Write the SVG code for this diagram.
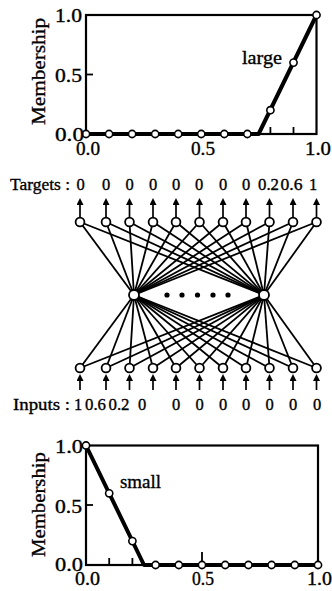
<svg xmlns="http://www.w3.org/2000/svg" width="332" height="591" viewBox="0 0 332 591">
<style>
text { font-family: "Liberation Serif", "Times New Roman", serif; fill: #000; stroke: #000; stroke-width: 0.35; }
.ax { font-size: 19px; }
.lb { font-size: 17px; }
.num { font-size: 16.5px; text-anchor: middle; }
.box { fill: none; stroke: #000; stroke-width: 2.2; }
.tick { stroke: #000; stroke-width: 1.8; }
.curve { fill: none; stroke: #000; stroke-width: 4; stroke-linejoin: round; }
.pt { fill: #fff; stroke: #000; stroke-width: 1.6; }
.node { fill: #fff; stroke: #000; stroke-width: 1.8; }
.edge { stroke: #000; stroke-width: 1.8; }
.arr { stroke: #000; stroke-width: 1.7; marker-end: url(#ah); }
</style>
<defs>
<marker id="ah" viewBox="0 0 7 7" refX="3" refY="3.5" markerWidth="7" markerHeight="7" orient="auto" markerUnits="userSpaceOnUse">
<path d="M0,0 L7,3.5 L0,7 Z" fill="#000"/>
</marker>
</defs>

<!-- Top chart: large -->
<g id="chart-large">
<rect class="box" x="86" y="15" width="230.5" height="119"/>
<line class="tick" x1="86" y1="74.5" x2="93" y2="74.5"/>
<line class="tick" x1="270.4" y1="134" x2="270.4" y2="127"/>
<line class="tick" x1="293.5" y1="134" x2="293.5" y2="127"/>
<polyline class="curve" points="86,134 258.6,134 316.5,15"/>
<circle class="pt" cx="86" cy="134" r="3.6"/>
<circle class="pt" cx="109.05" cy="134" r="3.6"/>
<circle class="pt" cx="132.1" cy="134" r="3.6"/>
<circle class="pt" cx="155.15" cy="134" r="3.6"/>
<circle class="pt" cx="178.2" cy="134" r="3.6"/>
<circle class="pt" cx="201.25" cy="134" r="3.6"/>
<circle class="pt" cx="224.3" cy="134" r="3.6"/>
<circle class="pt" cx="247.35" cy="134" r="3.6"/>
<circle class="pt" cx="270.4" cy="110.2" r="3.6"/>
<circle class="pt" cx="293.5" cy="62.6" r="3.6"/>
<circle class="pt" cx="316.5" cy="15" r="3.6"/>
<text class="ax" x="242" y="64" textLength="40" lengthAdjust="spacingAndGlyphs">large</text>
<text class="ax" x="55" y="22" textLength="27" lengthAdjust="spacingAndGlyphs">1.0</text>
<text class="ax" x="55" y="82" textLength="27" lengthAdjust="spacingAndGlyphs">0.5</text>
<text class="ax" x="55" y="141" textLength="29" lengthAdjust="spacingAndGlyphs">0.0</text>
<text class="ax" x="76" y="155" textLength="24" lengthAdjust="spacingAndGlyphs">0.0</text>
<text class="ax" x="191" y="155" textLength="24" lengthAdjust="spacingAndGlyphs">0.5</text>
<text class="ax" x="305" y="155" textLength="26" lengthAdjust="spacingAndGlyphs">1.0</text>
<text class="ax" transform="translate(45,71.5) rotate(-90)" text-anchor="middle" textLength="107" lengthAdjust="spacingAndGlyphs">Membership</text>
</g>

<!-- Connectors -->
<g id="connectors">
<line class="edge" x1="80" y1="222" x2="134" y2="295"/>
<line class="edge" x1="106" y1="222" x2="134" y2="295"/>
<line class="edge" x1="129.5" y1="222" x2="134" y2="295"/>
<line class="edge" x1="153" y1="222" x2="134" y2="295"/>
<line class="edge" x1="176" y1="222" x2="134" y2="295"/>
<line class="edge" x1="199.5" y1="222" x2="134" y2="295"/>
<line class="edge" x1="223" y1="222" x2="134" y2="295"/>
<line class="edge" x1="246" y1="222" x2="134" y2="295"/>
<line class="edge" x1="269.5" y1="222" x2="134" y2="295"/>
<line class="edge" x1="293" y1="222" x2="134" y2="295"/>
<line class="edge" x1="316.5" y1="222" x2="134" y2="295"/>
<line class="edge" x1="80" y1="222" x2="264" y2="295"/>
<line class="edge" x1="106" y1="222" x2="264" y2="295"/>
<line class="edge" x1="129.5" y1="222" x2="264" y2="295"/>
<line class="edge" x1="153" y1="222" x2="264" y2="295"/>
<line class="edge" x1="176" y1="222" x2="264" y2="295"/>
<line class="edge" x1="199.5" y1="222" x2="264" y2="295"/>
<line class="edge" x1="223" y1="222" x2="264" y2="295"/>
<line class="edge" x1="246" y1="222" x2="264" y2="295"/>
<line class="edge" x1="269.5" y1="222" x2="264" y2="295"/>
<line class="edge" x1="293" y1="222" x2="264" y2="295"/>
<line class="edge" x1="316.5" y1="222" x2="264" y2="295"/>

<line class="edge" x1="80" y1="368" x2="134" y2="295"/>
<line class="edge" x1="106" y1="368" x2="134" y2="295"/>
<line class="edge" x1="129.5" y1="368" x2="134" y2="295"/>
<line class="edge" x1="153" y1="368" x2="134" y2="295"/>
<line class="edge" x1="176" y1="368" x2="134" y2="295"/>
<line class="edge" x1="199.5" y1="368" x2="134" y2="295"/>
<line class="edge" x1="223" y1="368" x2="134" y2="295"/>
<line class="edge" x1="246" y1="368" x2="134" y2="295"/>
<line class="edge" x1="269.5" y1="368" x2="134" y2="295"/>
<line class="edge" x1="293" y1="368" x2="134" y2="295"/>
<line class="edge" x1="316.5" y1="368" x2="134" y2="295"/>
<line class="edge" x1="80" y1="368" x2="264" y2="295"/>
<line class="edge" x1="106" y1="368" x2="264" y2="295"/>
<line class="edge" x1="129.5" y1="368" x2="264" y2="295"/>
<line class="edge" x1="153" y1="368" x2="264" y2="295"/>
<line class="edge" x1="176" y1="368" x2="264" y2="295"/>
<line class="edge" x1="199.5" y1="368" x2="264" y2="295"/>
<line class="edge" x1="223" y1="368" x2="264" y2="295"/>
<line class="edge" x1="246" y1="368" x2="264" y2="295"/>
<line class="edge" x1="269.5" y1="368" x2="264" y2="295"/>
<line class="edge" x1="293" y1="368" x2="264" y2="295"/>
<line class="edge" x1="316.5" y1="368" x2="264" y2="295"/>

<line class="arr" x1="80" y1="217" x2="80" y2="202"/>
<line class="arr" x1="106" y1="217" x2="106" y2="202"/>
<line class="arr" x1="129.5" y1="217" x2="129.5" y2="202"/>
<line class="arr" x1="153" y1="217" x2="153" y2="202"/>
<line class="arr" x1="176" y1="217" x2="176" y2="202"/>
<line class="arr" x1="199.5" y1="217" x2="199.5" y2="202"/>
<line class="arr" x1="223" y1="217" x2="223" y2="202"/>
<line class="arr" x1="246" y1="217" x2="246" y2="202"/>
<line class="arr" x1="269.5" y1="217" x2="269.5" y2="202"/>
<line class="arr" x1="293" y1="217" x2="293" y2="202"/>
<line class="arr" x1="316.5" y1="217" x2="316.5" y2="202"/>

<line class="arr" x1="80" y1="390" x2="80" y2="378"/>
<line class="arr" x1="106" y1="390" x2="106" y2="378"/>
<line class="arr" x1="129.5" y1="390" x2="129.5" y2="378"/>
<line class="arr" x1="153" y1="390" x2="153" y2="378"/>
<line class="arr" x1="176" y1="390" x2="176" y2="378"/>
<line class="arr" x1="199.5" y1="390" x2="199.5" y2="378"/>
<line class="arr" x1="223" y1="390" x2="223" y2="378"/>
<line class="arr" x1="246" y1="390" x2="246" y2="378"/>
<line class="arr" x1="269.5" y1="390" x2="269.5" y2="378"/>
<line class="arr" x1="293" y1="390" x2="293" y2="378"/>
<line class="arr" x1="316.5" y1="390" x2="316.5" y2="378"/>
</g>

<!-- Output nodes -->
<g id="out0"><circle class="node" cx="80" cy="222" r="4.4"/></g>
<g id="out1"><circle class="node" cx="106" cy="222" r="4.4"/></g>
<g id="out2"><circle class="node" cx="129.5" cy="222" r="4.4"/></g>
<g id="out3"><circle class="node" cx="153" cy="222" r="4.4"/></g>
<g id="out4"><circle class="node" cx="176" cy="222" r="4.4"/></g>
<g id="out5"><circle class="node" cx="199.5" cy="222" r="4.4"/></g>
<g id="out6"><circle class="node" cx="223" cy="222" r="4.4"/></g>
<g id="out7"><circle class="node" cx="246" cy="222" r="4.4"/></g>
<g id="out8"><circle class="node" cx="269.5" cy="222" r="4.4"/></g>
<g id="out9"><circle class="node" cx="293" cy="222" r="4.4"/></g>
<g id="out10"><circle class="node" cx="316.5" cy="222" r="4.4"/></g>

<!-- Hidden nodes -->
<g id="hid0"><circle class="node" cx="134" cy="295" r="5"/></g>
<g id="hid1"><circle class="node" cx="264" cy="295" r="5"/></g>
<g id="hidden-dots">
<circle cx="167" cy="295" r="2.6" fill="#000"/>
<circle cx="182" cy="295" r="2.6" fill="#000"/>
<circle cx="197.5" cy="295" r="2.6" fill="#000"/>
<circle cx="213" cy="295" r="2.6" fill="#000"/>
<circle cx="228" cy="295" r="2.6" fill="#000"/>
</g>

<!-- Input nodes -->
<g id="in0"><circle class="node" cx="80" cy="368" r="4.4"/></g>
<g id="in1"><circle class="node" cx="106" cy="368" r="4.4"/></g>
<g id="in2"><circle class="node" cx="129.5" cy="368" r="4.4"/></g>
<g id="in3"><circle class="node" cx="153" cy="368" r="4.4"/></g>
<g id="in4"><circle class="node" cx="176" cy="368" r="4.4"/></g>
<g id="in5"><circle class="node" cx="199.5" cy="368" r="4.4"/></g>
<g id="in6"><circle class="node" cx="223" cy="368" r="4.4"/></g>
<g id="in7"><circle class="node" cx="246" cy="368" r="4.4"/></g>
<g id="in8"><circle class="node" cx="269.5" cy="368" r="4.4"/></g>
<g id="in9"><circle class="node" cx="293" cy="368" r="4.4"/></g>
<g id="in10"><circle class="node" cx="316.5" cy="368" r="4.4"/></g>

<!-- Targets row -->
<g id="targets">
<text class="lb" x="10" y="190" textLength="60" lengthAdjust="spacingAndGlyphs">Targets :</text>
<text class="num" x="80.5" y="190">0</text>
<text class="num" x="106" y="190">0</text>
<text class="num" x="129.5" y="190">0</text>
<text class="num" x="153" y="190">0</text>
<text class="num" x="176" y="190">0</text>
<text class="num" x="199" y="190">0</text>
<text class="num" x="223" y="190">0</text>
<text class="num" x="246" y="190">0</text>
<text class="num" x="268.5" y="190" textLength="21" lengthAdjust="spacingAndGlyphs">0.2</text>
<text class="num" x="291.5" y="190" textLength="22" lengthAdjust="spacingAndGlyphs">0.6</text>
<text class="num" x="313" y="190">1</text>
</g>

<!-- Inputs row -->
<g id="inputs">
<text class="lb" x="13" y="410" textLength="57" lengthAdjust="spacingAndGlyphs">Inputs :</text>
<text class="num" x="78" y="410">1</text>
<text class="num" x="95.5" y="410" textLength="21" lengthAdjust="spacingAndGlyphs">0.6</text>
<text class="num" x="119" y="410" textLength="21" lengthAdjust="spacingAndGlyphs">0.2</text>
<text class="num" x="142" y="410">0</text>
<text class="num" x="176" y="410">0</text>
<text class="num" x="199.5" y="410">0</text>
<text class="num" x="223" y="410">0</text>
<text class="num" x="246" y="410">0</text>
<text class="num" x="269.5" y="410">0</text>
<text class="num" x="293" y="410">0</text>
<text class="num" x="317" y="410">0</text>
</g>

<!-- Bottom chart: small -->
<g id="chart-small">
<rect class="box" x="86" y="445.5" width="232" height="119.5"/>
<line class="tick" x1="86" y1="505" x2="93" y2="505"/>
<line class="tick" x1="109.2" y1="565" x2="109.2" y2="558"/>
<line class="tick" x1="132.4" y1="565" x2="132.4" y2="558"/>
<line class="tick" x1="202" y1="565" x2="202" y2="552"/>
<polyline class="curve" points="86,445.5 144,565 318,565"/>
<circle class="pt" cx="86" cy="445.5" r="3.6"/>
<circle class="pt" cx="109.2" cy="493.3" r="3.6"/>
<circle class="pt" cx="132.4" cy="541.1" r="3.6"/>
<circle class="pt" cx="155.6" cy="565" r="3.6"/>
<circle class="pt" cx="178.8" cy="565" r="3.6"/>
<circle class="pt" cx="202" cy="565" r="3.6"/>
<circle class="pt" cx="225.2" cy="565" r="3.6"/>
<circle class="pt" cx="248.4" cy="565" r="3.6"/>
<circle class="pt" cx="271.6" cy="565" r="3.6"/>
<circle class="pt" cx="294.8" cy="565" r="3.6"/>
<circle class="pt" cx="318" cy="565" r="3.6"/>
<text class="ax" x="120" y="488" textLength="41" lengthAdjust="spacingAndGlyphs">small</text>
<text class="ax" x="55" y="453" textLength="28" lengthAdjust="spacingAndGlyphs">1.0</text>
<text class="ax" x="55" y="513" textLength="27" lengthAdjust="spacingAndGlyphs">0.5</text>
<text class="ax" x="55" y="571" textLength="28" lengthAdjust="spacingAndGlyphs">0.0</text>
<text class="ax" x="75" y="585" textLength="25" lengthAdjust="spacingAndGlyphs">0.0</text>
<text class="ax" x="192" y="585" textLength="22" lengthAdjust="spacingAndGlyphs">0.5</text>
<text class="ax" x="307" y="585" textLength="25" lengthAdjust="spacingAndGlyphs">1.0</text>
<text class="ax" transform="translate(45,504.5) rotate(-90)" text-anchor="middle" textLength="105" lengthAdjust="spacingAndGlyphs">Membership</text>
</g>
</svg>
